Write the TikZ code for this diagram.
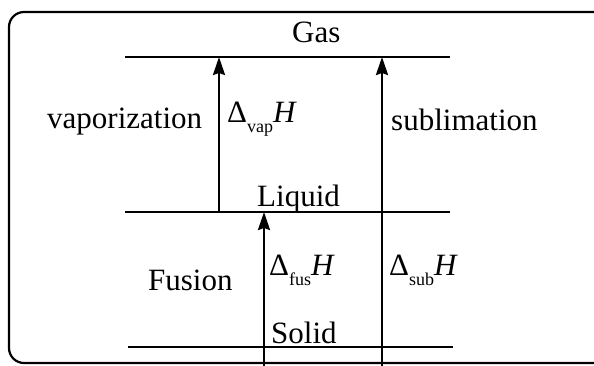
\documentclass[tikz,border=0pt]{standalone}
\usepackage{fontspec}
\setmainfont{Liberation Serif}
\usepackage{tikz}
\usetikzlibrary{arrows.meta}
\newcommand{\dH}[1]{Δ\raisebox{-10pt}{\fontsize{18}{18}\selectfont #1}\textit{H}}

\begin{document}
\begin{tikzpicture}[x=1pt,y=-1pt,
  level/.style={line width=2.6pt},
  trans/.style={line width=2.4pt,-{Stealth[length=18pt,width=12pt,inset=2pt]}},
  lbl/.style={anchor=base west,inner sep=0pt,font=\fontsize{31}{36}\selectfont}]
  \useasboundingbox (0,0) rectangle (594,365);
  \draw[line width=2.2pt,rounded corners=15pt] (9,12) rectangle (609,363);
  % energy levels
  \foreach \name/\xa/\xb/\y in {gas/125/450/57, liq/125/450/212, sol/128/453/347}
  {
    \coordinate (\name W) at (\xa,\y);
    \coordinate (\name E) at (\xb,\y);
    \draw[level] (\name W) -- (\name E);
  }
  \node[lbl] (gaslbl) at (292,42) {Gas};
  \node[lbl] (liqlbl) at (257,206) {Liquid};
  \node[lbl] (sollbl) at (271,343) {Solid};
  \node[lbl] (vaplbl) at (47,128) {vaporization};
  \node[lbl] (sublbl) at (391,130) {sublimation};
  \node[lbl] (fuslbl) at (148,290) {Fusion};
  \node[lbl] (vapdH) at (227,122) {\dH{vap}};
  \node[lbl] (fusdH) at (269,275) {\dH{fus}};
  \node[lbl] (subdH) at (389,275) {\dH{sub}};
  % transitions
  \coordinate (vap) at (219,0);
  \coordinate (fus) at (264,372);
  \coordinate (sub) at (382,372);
  \draw[trans] (vap |- liqW) -- (vap |- gasW);
  \draw[trans] (fus) -- (fus |- liqW);
  \draw[trans] (sub) -- (sub |- gasW);
\end{tikzpicture}
\end{document}
